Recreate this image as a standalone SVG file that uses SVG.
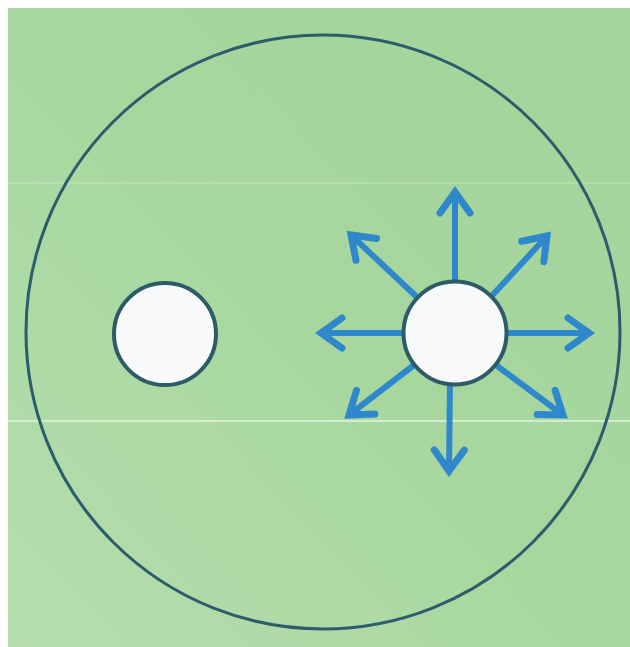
<svg xmlns="http://www.w3.org/2000/svg" width="630" height="647" viewBox="0 0 630 647">
  <defs>
    <linearGradient id="bg" x1="1" y1="0" x2="0" y2="1">
      <stop offset="0" stop-color="#a3d49a"/>
      <stop offset="0.5" stop-color="#a7d79f"/>
      <stop offset="1" stop-color="#b6deae"/>
    </linearGradient>
    <marker id="head" markerUnits="userSpaceOnUse" markerWidth="44" markerHeight="44" viewBox="-32 -22 44 44" refX="0" refY="0" orient="auto">
      <path d="M-21,-15 L0,0 L-21,15" fill="none" stroke="#2e88cb" stroke-width="7" stroke-linejoin="miter" stroke-linecap="round"/>
    </marker>
    <style>
      .arrow { stroke: #2e88cb; stroke-width: 6; fill: none; marker-end: url(#head); }
      .hole { fill: #f8f9fb; stroke: #2d5c68; stroke-width: 4; }
      .glitch { stroke: #eef8ea; stroke-width: 1.5; }
    </style>
  </defs>
  <rect x="0" y="0" width="630" height="647" fill="#ffffff"/>
  <rect x="8" y="8" width="622" height="639" fill="url(#bg)"/>
  <line class="glitch" x1="8" y1="183" x2="630" y2="183" opacity="0.25"/>
  <line class="glitch" x1="8" y1="421" x2="630" y2="421" opacity="0.85"/>

  <g id="outer-circle">
    <circle cx="323" cy="332" r="297" fill="none" stroke="#2d5c6c" stroke-width="3"/>
  </g>

  <g id="connectors">
    <line class="arrow" x1="455" y1="290" x2="455" y2="192"/>
    <line class="arrow" x1="450" y1="380" x2="449" y2="471"/>
    <line class="arrow" x1="410" y1="333" x2="321" y2="333"/>
    <line class="arrow" x1="500" y1="333" x2="589" y2="333"/>
    <line class="arrow" x1="420" y1="300" x2="351" y2="235"/>
    <line class="arrow" x1="488" y1="300" x2="547" y2="236"/>
    <line class="arrow" x1="418" y1="362" x2="349" y2="415"/>
    <line class="arrow" x1="492" y1="362" x2="563" y2="415"/>
  </g>

  <g id="left-hole">
    <circle class="hole" cx="165" cy="334" r="51"/>
  </g>
  <g id="right-hole">
    <circle class="hole" cx="455" cy="333" r="51.5"/>
  </g>
</svg>
